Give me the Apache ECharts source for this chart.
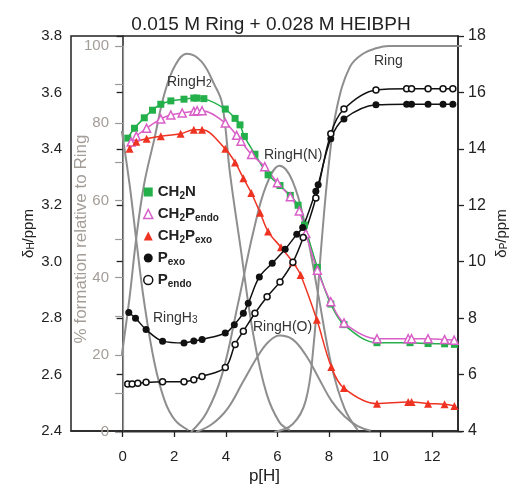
<!DOCTYPE html>
<html><head><meta charset="utf-8">
<script src="https://cdn.jsdelivr.net/npm/echarts@6/dist/echarts.min.js"></script>
<style>html,body{margin:0;padding:0;background:#fff}#c{width:517px;height:490px}</style>
</head><body><div id="c"></div>
<script>
// ---- data ----
const xTicks = [0, 2, 4, 6, 8, 10, 12];

const pH_CH2N = [0.20,0.46,0.84,1.16,1.48,1.87,2.38,2.76,2.88,3.15,3.98,4.36,4.55,4.72,5.13,5.64,6.1,6.5,6.8,7.05,7.55,8.07,8.58,9.86,11.14,11.84,12.48,12.86];
const d_CH2N  = [3.438,3.473,3.51,3.537,3.558,3.570,3.576,3.580,3.580,3.578,3.541,3.508,3.485,3.444,3.381,3.308,3.27,3.235,3.20,3.13,2.98,2.85,2.777,2.713,2.713,2.710,2.709,2.707];

const pH_CH2Pendo = [0.33,0.53,0.93,1.48,1.87,2.31,2.76,2.89,3.08,3.98,4.42,4.59,5.0,5.51,6.0,6.5,6.85,7.1,7.55,8.07,8.58,9.86,11.07,11.2,11.84,12.48,12.85];
const d_CH2Pendo  = [3.424,3.445,3.473,3.506,3.52,3.527,3.533,3.535,3.535,3.492,3.448,3.427,3.38,3.337,3.28,3.23,3.18,3.10,2.97,2.858,2.783,2.727,2.727,2.727,2.727,2.724,2.722];

const pH_CH2Pexo = [0.27,0.53,0.93,1.48,2.25,2.76,3.08,3.98,4.36,4.68,4.99,5.33,5.64,6.14,6.6,6.9,7.53,8.09,8.58,9.86,11.07,11.2,11.84,12.48,12.86];
const d_CH2Pexo  = [3.40,3.425,3.436,3.445,3.4535,3.4675,3.4675,3.40,3.352,3.296,3.2435,3.1735,3.107,3.051,2.9985,2.953,2.794,2.627,2.552,2.497,2.503,2.503,2.497,2.495,2.489];

const pH_Pexo = [0.24,0.5,0.91,1.55,2.38,2.76,3.08,3.98,4.33,4.68,4.87,5.3,5.8,6.3,6.75,6.98,7.49,7.58,8.07,8.58,9.82,11.01,11.2,11.84,12.42,12.8];
const d_Pexo  = [8.2,8.0,7.595,7.185,7.12,7.19,7.245,7.475,7.77,8.175,8.525,9.46,9.95,10.44,10.97,11.21,12.495,12.73,14.36,15.06,15.56,15.585,15.585,15.585,15.585,15.585];

const pH_Pendo = [0.2,0.37,0.59,0.91,1.55,2.38,2.76,3.08,3.98,4.36,4.68,5.13,5.6,6.1,6.6,7.0,7.49,8.07,8.58,9.82,11.01,11.2,11.84,12.42,12.8];
const d_Pendo  = [5.67,5.67,5.69,5.725,5.75,5.75,5.82,5.935,6.25,7.07,7.535,8.175,8.76,9.285,9.985,10.86,12.26,14.535,15.41,16.09,16.13,16.13,16.13,16.13,16.13];

// species distribution (% formation relative to Ring)
const pH_RingH3 = [-0.05,0.25,0.5,0.8,1.2,1.6,2.0,2.5];
const f_RingH3  = [78,64,50,34,18,8,3,0.5];
const pH_RingH2 = [-0.05,0.25,0.5,0.8,1.2,1.6,2.0,2.45,3.0,3.5,3.8,4.1,4.5,5.0,5.5,6.0,6.4];
const f_RingH2  = [20,35,50,64,76,88,95,98,96,90,85,67,48,25,10,2.5,0.5];
const pH_RingHN = [2.6,3.2,3.8,4.4,5.0,5.5,6.0,6.5,7.0,7.5,8.0,8.5,9.0];
const f_RingHN  = [0,5,15,33,52,64,69,65,53,35,17,6,0.5];
const pH_RingHO = [2.8,3.4,4.0,4.6,5.2,5.6,6.0,6.5,7.0,7.5,8.0,8.5,9.0,9.5];
const f_RingHO  = [0,2,6,13,20,23.5,25,24,20,14,8,4,1.5,0.3];
const pH_Ring   = [5.8,6.5,7.0,7.3,7.6,7.9,8.2,8.7,9.2,9.7,10.2,13];
const f_Ring    = [0,2,8,22,48,70,84,94.6,98,99.4,100,100];

// ---- build ----
const zip = (a, b) => a.map((v, i) => [v, b[i]]);
const FONT = 'Liberation Sans, Arial, sans-serif';
const GREEN = '#23b04a', PINK = '#d95fc8', RED = '#ee3322', GRAY = '#8e8e8e', AXGRAY = '#a39d98';

function dataSeries(name, xs, ys, yAxisIndex, symbol, color, hollow, size) {
  return {
    name, type: 'line', xAxisIndex: 0, yAxisIndex,
    data: zip(xs, ys), smooth: 0.35, symbol, symbolSize: size,
    lineStyle: { color, width: 1.5 },
    itemStyle: hollow ? { color: '#fff', borderColor: color, borderWidth: 1.5 } : { color, borderWidth: 0 },
    z: 5
  };
}
function graySeries(name, xs, ys) {
  return {
    name, type: 'line', xAxisIndex: 1, yAxisIndex: 2, data: zip(xs, ys),
    smooth: 0.4, showSymbol: false, symbol: 'none', silent: true,
    lineStyle: { color: GRAY, width: 2 }, z: 2
  };
}

const chart = echarts.init(document.getElementById('c'), null, { renderer: 'canvas' });
const sub = { fontSize: 10, verticalAlign: 'bottom', lineHeight: 12, fontFamily: FONT };
chart.setOption({
  animation: false,
  backgroundColor: '#fff',
  textStyle: { fontFamily: FONT },
  title: {
    text: '0.015 M Ring + 0.028 M HEIBPH', left: 266, top: 10, textAlign: 'center',
    textStyle: { fontSize: 19, fontWeight: 'normal', color: '#222', fontFamily: FONT }
  },
  grid: [
    { left: 71, right: 55, top: 36, bottom: 54, show: true, borderColor: '#222', borderWidth: 1.5 },
    { left: 122, right: 55, top: 46, bottom: 58 }
  ],
  xAxis: [
    {
      type: 'value', gridIndex: 0, min: -2, max: 13,
      name: 'p[H]', nameLocation: 'middle', nameGap: 37, nameMoveOverlap: false,
      nameTextStyle: { fontSize: 17, color: '#222', fontFamily: FONT },
      axisLine: { show: true, lineStyle: { color: '#222', width: 1.5 } },
      axisTick: { show: true, customValues: xTicks, length: 6, lineStyle: { color: '#222', width: 1.3 } },
      axisLabel: { customValues: xTicks, fontSize: 15, color: '#222', margin: 18, fontFamily: FONT },
      splitLine: { show: false }
    },
    {
      type: 'value', gridIndex: 1, min: -0.043, max: 13, position: 'top',
      axisLine: { show: true, lineStyle: { color: '#999', width: 1.2 } },
      axisTick: { show: false }, axisLabel: { show: false }, splitLine: { show: false }
    }
  ],
  yAxis: [
    {
      type: 'value', gridIndex: 0, position: 'left', min: 2.4, max: 3.8, interval: 0.2,
      name: '{m|δ}{s|H}{m|/ppm}', nameLocation: 'middle', nameGap: 35, nameMoveOverlap: false,
      nameTextStyle: { rich: { m: { fontSize: 15, color: '#222', fontFamily: FONT }, s: Object.assign({ color: '#222' }, sub) } },
      axisLine: { show: true, lineStyle: { color: '#222', width: 1.5 } },
      axisTick: { show: true, length: 6, lineStyle: { color: '#222', width: 1.3 } },
      axisLabel: { fontSize: 15, color: '#222', margin: 9, formatter: v => v.toFixed(1), fontFamily: FONT },
      splitLine: { show: false }
    },
    {
      type: 'value', gridIndex: 0, position: 'right', min: 4, max: 18, interval: 2,
      name: '{m|δ}{s|P}{m|/ppm}', nameLocation: 'middle', nameGap: 36, nameMoveOverlap: false,
      nameTextStyle: { rich: { m: { fontSize: 15, color: '#222', fontFamily: FONT }, s: Object.assign({ color: '#222' }, sub) } },
      axisLine: { show: true, lineStyle: { color: '#222', width: 1.5 } },
      axisTick: { show: true, length: 6, lineStyle: { color: '#222', width: 1.3 } },
      axisLabel: { fontSize: 16, color: '#222', margin: 10, fontFamily: FONT },
      splitLine: { show: false }
    },
    {
      type: 'value', gridIndex: 1, position: 'left', min: 0, max: 100, interval: 10,
      name: '% formation relative to Ring', nameLocation: 'middle', nameGap: 32, nameMoveOverlap: false,
      nameTextStyle: { fontSize: 17, color: AXGRAY, fontFamily: FONT },
      axisLine: { show: true, lineStyle: { color: '#999', width: 1.2 } },
      axisTick: { show: true, length: 8, lineStyle: { color: '#999', width: 1.2 } },
      axisLabel: { fontSize: 15, color: AXGRAY, margin: 13, fontFamily: FONT,
        formatter: v => (Math.round(v) % 20 === 0 ? String(Math.round(v)) : '') },
      splitLine: { show: false }
    }
  ],
  legend: {
    orient: 'vertical', left: 138, top: 178, itemWidth: 9, itemHeight: 9, itemGap: 4,
    selectedMode: false,
    data: [
      { name: 'CH2N', icon: 'rect', itemStyle: { color: GREEN, borderWidth: 0 } },
      { name: 'CH2Pendo', icon: 'triangle', itemStyle: { color: '#fff', borderColor: PINK, borderWidth: 1.5 } },
      { name: 'CH2Pexo', icon: 'triangle', itemStyle: { color: RED, borderWidth: 0 } },
      { name: 'Pexo', icon: 'circle', itemStyle: { color: '#111', borderWidth: 0 } },
      { name: 'Pendo', icon: 'circle', itemStyle: { color: '#fff', borderColor: '#111', borderWidth: 1.5 } }
    ],
    formatter: n => ({
      CH2N: 'CH{s|2}N', CH2Pendo: 'CH{s|2}P{s|endo}', CH2Pexo: 'CH{s|2}P{s|exo}',
      Pexo: 'P{s|exo}', Pendo: 'P{s|endo}'
    })[n],
    textStyle: { fontSize: 15, fontWeight: 'bold', color: '#222', fontFamily: FONT, lineHeight: 18,
      rich: { s: { fontSize: 10, fontWeight: 'bold', verticalAlign: 'bottom', lineHeight: 12, color: '#222', fontFamily: FONT } } }
  },
  graphic: [
    { type: 'text', left: 167, top: 75, style: { text: 'RingH{s|2}', font: '14px ' + FONT, fill: '#333', rich: { s: Object.assign({ fill: '#333' }, sub) } }, z: 10 },
    { type: 'text', left: 264, top: 148, style: { text: 'RingH(N)', font: '14px ' + FONT, fill: '#333' }, z: 10 },
    { type: 'text', left: 153, top: 311, style: { text: 'RingH{s|3}', font: '14px ' + FONT, fill: '#333', rich: { s: Object.assign({ fill: '#333' }, sub) } }, z: 10 },
    { type: 'text', left: 253, top: 320, style: { text: 'RingH(O)', font: '14px ' + FONT, fill: '#333' }, z: 10 },
    { type: 'text', left: 374, top: 54, style: { text: 'Ring', font: '14px ' + FONT, fill: '#333' }, z: 10 }
  ],
  series: [
    graySeries('RingH3', pH_RingH3, f_RingH3),
    graySeries('RingH2', pH_RingH2, f_RingH2),
    graySeries('RingH(N)', pH_RingHN, f_RingHN),
    graySeries('RingH(O)', pH_RingHO, f_RingHO),
    graySeries('Ring', pH_Ring, f_Ring),
    dataSeries('CH2N', pH_CH2N, d_CH2N, 0, 'rect', GREEN, false, 7),
    dataSeries('CH2Pendo', pH_CH2Pendo, d_CH2Pendo, 0, 'triangle', PINK, true, 8),
    dataSeries('CH2Pexo', pH_CH2Pexo, d_CH2Pexo, 0, 'triangle', RED, false, 8),
    dataSeries('Pexo', pH_Pexo, d_Pexo, 1, 'circle', '#111', false, 7),
    dataSeries('Pendo', pH_Pendo, d_Pendo, 1, 'circle', '#111', true, 6)
  ]
});
</script></body></html>
